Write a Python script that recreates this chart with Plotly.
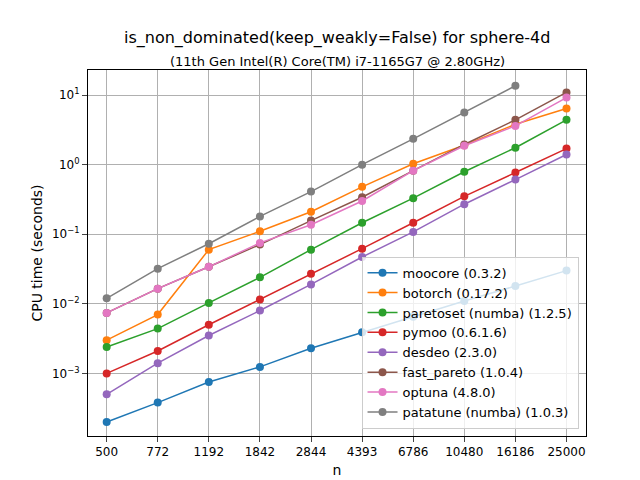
import plotly.graph_objects as go

n = [500, 772, 1192, 1842, 2844, 4393, 6786, 10480, 16186, 25000]

moocore = [2.0e-4, 3.8e-4, 7.5e-4, 1.24e-3, 2.3e-3, 3.9e-3, 6.5e-3, 1.1e-2, 1.8e-2, 3.0e-2]
botorch = [3.0e-3, 7.0e-3, 0.06, 0.11, 0.21, 0.48, 1.03, 1.9, 3.8, 6.4]
paretoset = [2.4e-3, 4.4e-3, 1.03e-2, 2.4e-2, 6.0e-2, 0.146, 0.33, 0.79, 1.75, 4.4]
pymoo = [1.0e-3, 2.1e-3, 5.0e-3, 1.15e-2, 2.7e-2, 6.2e-2, 0.146, 0.35, 0.77, 1.7]
desdeo = [5.0e-4, 1.4e-3, 3.5e-3, 8.0e-3, 1.9e-2, 4.7e-2, 0.108, 0.27, 0.61, 1.4]
fast_pareto = [7.4e-3, 1.65e-2, 0.034, 0.071, 0.157, 0.34, 0.82, 1.95, 4.4, 10.9]
optuna = [7.4e-3, 1.65e-2, 0.034, 0.075, 0.137, 0.30, 0.82, 1.87, 3.6, 9.2]
patatune = [1.2e-2, 3.2e-2, 0.073, 0.18, 0.41, 1.0, 2.35, 5.6, 13.6]

series = [
    ("moocore (0.3.2)", moocore, "#1f77b4"),
    ("botorch (0.17.2)", botorch, "#ff7f0e"),
    ("paretoset (numba) (1.2.5)", paretoset, "#2ca02c"),
    ("pymoo (0.6.1.6)", pymoo, "#d62728"),
    ("desdeo (2.3.0)", desdeo, "#9467bd"),
    ("fast_pareto (1.0.4)", fast_pareto, "#8c564b"),
    ("optuna (4.8.0)", optuna, "#e377c2"),
    ("patatune (numba) (1.0.3)", patatune, "#7f7f7f"),
]

fig = go.Figure()
for name, vals, color in series:
    fig.add_trace(go.Scatter(
        x=n[:len(vals)], y=vals, name=name, mode="lines+markers",
        line=dict(color=color, width=1.5), marker=dict(color=color, size=8),
    ))

fig.update_layout(
    width=640, height=480,
    font=dict(family="DejaVu Sans", size=12, color="black"),
    plot_bgcolor="white", paper_bgcolor="white",
    margin=dict(l=80, r=62, t=62, b=52, autoexpand=False),
    annotations=[
        dict(text="is_non_dominated(keep_weakly=False) for sphere-4d", x=0.5, y=1, xref="paper",
             yref="paper", yshift=44, showarrow=False, font=dict(size=16), xanchor="center"),
        dict(text="(11th Gen Intel(R) Core(TM) i7-1165G7 @ 2.80GHz)", x=0.5, y=1, xref="paper",
             yref="paper", yshift=18, showarrow=False, font=dict(size=13), xanchor="center"),
    ],
    legend=dict(x=0.985, y=0.02, xanchor="right", yanchor="bottom", bgcolor="rgba(255,255,255,0.8)",
                bordercolor="#cccccc", borderwidth=1, font=dict(size=13)),
    showlegend=True,
)
fig.update_xaxes(type="log", tickvals=n, ticktext=[str(v) for v in n],
                 title=dict(text="n", standoff=6),
                 showgrid=True, gridcolor="#b0b0b0", showline=True, linecolor="black", mirror=True,
                 ticks="outside", range=[2.63, 4.47])
fig.update_yaxes(type="log", title=dict(text="CPU time (seconds)", standoff=6),
                 tickvals=[1e-3, 1e-2, 1e-1, 1, 10],
                 ticktext=["10<sup>−3</sup>", "10<sup>−2</sup>", "10<sup>−1</sup>", "10<sup>0</sup>", "10<sup>1</sup>"],
                 showgrid=True, gridcolor="#b0b0b0", showline=True, linecolor="black", mirror=True,
                 ticks="outside", range=[-3.9, 1.36])

fig.write_html("out.html")
